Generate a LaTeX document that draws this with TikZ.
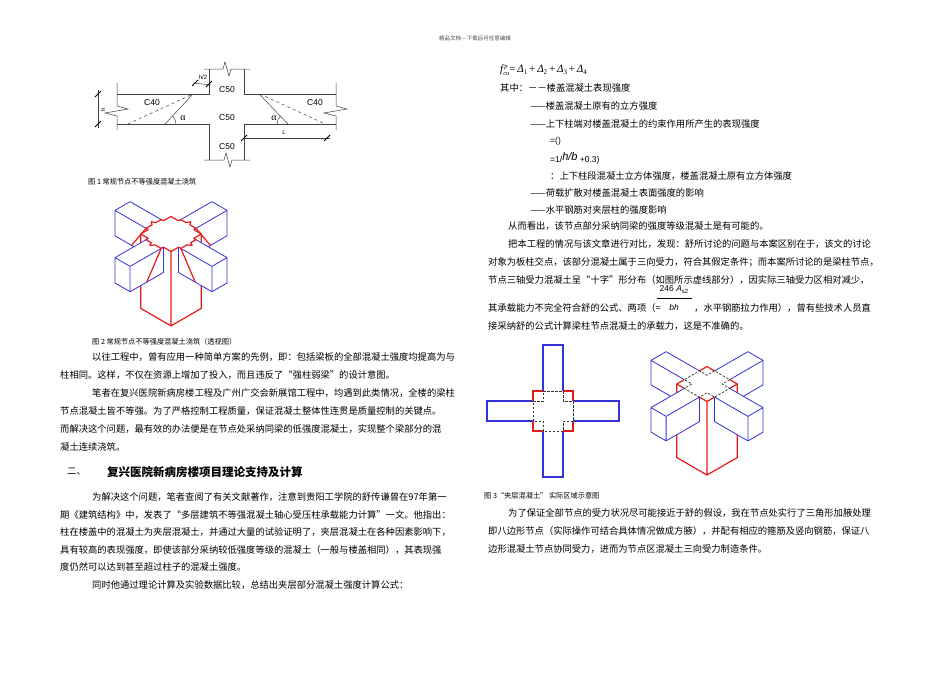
\documentclass[tikz,border=0pt]{standalone}
\usepackage{fontspec}
\newfontfamily\cjk{Noto Sans CJK SC}
\newfontfamily\arial{Liberation Sans}
\newfontfamily\tnr{Liberation Serif}
\definecolor{bluel}{RGB}{50,50,215}
\definecolor{redl}{RGB}{230,25,25}
\begin{document}
\begin{tikzpicture}[x=1pt,y=-1pt,
  txt/.style={anchor=west,inner sep=0pt,font=\cjk\fontsize{9.3}{11}\selectfont},
  capt/.style={anchor=west,inner sep=0pt,font=\cjk\fontsize{7.2}{9}\selectfont},
  lab/.style={inner sep=0pt,font=\arial\fontsize{8.5}{10}\selectfont},
  ln/.style={draw=black!75,line width=0.5pt},
  tick/.style={draw=black,line width=1pt},
  bm/.style={draw=bluel,line width=0.8pt,line join=round},
  cl/.style={draw=redl,line width=1.2pt,line join=round},
  dsh/.style={draw=black!80,line width=0.7pt,dash pattern=on 2.5pt off 1.5pt}]
\useasboundingbox (0,0) rectangle (950,672);
\fill[white] (0,0) rectangle (950,672);
\node[inner sep=0,font=\cjk\fontsize{5.5}{6}\selectfont,text=black!70] (hdr) at (475,38) {精品文档---下载后可任意编辑};

% ---------- Fig 1
\draw[ln] (209,69)--(209,94)--(117,94);
\draw[ln] (117,124)--(209,124)--(209,160);
\draw[ln] (244,69)--(244,94)--(336,94);
\draw[ln] (336,124)--(244,124)--(244,160);
\draw[ln] (204,69)--(223,69)--(225,62)--(229,76)--(231,69)--(250,69);
\draw[ln] (204,160)--(224,160)--(226,153)--(230,167)--(232,160)--(250,160);
\draw[ln] (117,83)--(117,106)--(128,109)--(105,113)--(117,116)--(117,130);
\draw[ln] (336,83)--(336,106)--(347,109)--(324,113)--(336,116)--(336,130);
\draw[ln,dashed] (128,124)--(193,94);
\draw[ln] (165,124)--(193,94);
\draw[ln] (176,124) arc[start angle=0,end angle=-47,radius=11];
\draw[ln,dashed] (260,94)--(325,124);
\draw[ln] (259,94)--(288,124);
\draw[ln] (277,124) arc[start angle=180,end angle=227,radius=11];
\draw[ln] (98,90)--(98,128);
\draw[tick] (95,97)--(101,91) (95,127)--(101,121);
\draw[ln] (193,83)--(211,85);
\draw[tick] (192,86)--(198,80) (206,87)--(212,81);
\draw[ln] (244,138)--(330,138);
\draw[tick] (241,141)--(247,135) (324,141)--(330,135);
\node[lab,rotate=90,font=\arial\fontsize{6}{7}\selectfont] (h1) at (103,110) {h};
\node[lab,font=\arial\fontsize{6}{7}\selectfont] (h2) at (203,77) {h/2};
\node[lab,font=\arial\fontsize{6}{7}\selectfont] (lL) at (284,132) {L};
\node[lab] (c40a) at (152,103) {C40};
\node[lab] (c40b) at (315,103) {C40};
\node[lab] (c50a) at (227,90) {C50};
\node[lab] (c50b) at (227,118) {C50};
\node[lab] (c50c) at (227,147) {C50};
\node[lab,font=\tnr\fontsize{10}{11}\selectfont] (al1) at (183,118) {α};
\node[lab,font=\tnr\fontsize{10}{11}\selectfont] (al2) at (274,118) {α};
\node[capt] (cap1) at (88,182) {图 1 常规节点不等强度混凝土浇筑};

% ---------- iso body macro
\def\A{1}\def\B{0.5}\def\L{3.2}\def\D{1.45}\def\H{4.25}
\newcommand\isobody[3]{%
 \fill[white] (-\A,-\B,0)--(-\L,-\B,0)--(-\L,\B,0)--(-\L,\B,-\D)--(-\A,\B,-\D)--(-\A,\B,0)--cycle;
 \draw[bm] (-\A,-\B,0)--(-\L,-\B,0)--(-\L,\B,0)--(-\A,\B,0) (-\L,\B,0)--(-\L,\B,-\D)--(-\A,\B,-\D)--(-\A,\B,0);
 \fill[white] (-\B,-\A,0)--(-\B,-\L,0)--(\B,-\L,0)--(\B,-\L,-\D)--(\B,-\A,-\D)--(\B,-\A,0)--cycle;
 \draw[bm] (-\B,-\A,0)--(-\B,-\L,0)--(\B,-\L,0)--(\B,-\A,0) (\B,-\L,0)--(\B,-\L,-\D)--(\B,-\A,-\D)--(\B,-\A,0);
 #1
 \fill[white] (\A,-\A,0)--(\A,-\A,-\H)--(\A,\A,-\H)--(-\A,\A,-\H)--(-\A,\A,0)--cycle;
 \fill[white] (-\A,-\A,0)--(\A,-\A,0)--(\A,\A,0)--(-\A,\A,0)--cycle;
 \draw[cl] (\A,-\A,0)--(\A,-\A,-\H)--(\A,\A,-\H)--(-\A,\A,-\H)--(-\A,\A,0) (\A,\A,0)--(\A,\A,-\H);
 \draw[cl] (-\B,-\A,0)--(-\A,-\A,0)--(-\A,-\B,0) (\B,-\A,0)--(\A,-\A,0)--(\A,-\B,0)
   (\A,\B,0)--(\A,\A,0)--(\B,\A,0) (-\A,\B,0)--(-\A,\A,0)--(-\B,\A,0);
 #2
 \fill[white] (\A,-\B,0)--(\L,-\B,0)--(\L,-\B,-\D)--(\L,\B,-\D)--(\A,\B,-\D)--(\A,\B,0)--cycle;
 \draw[bm] (\A,-\B,0)--(\L,-\B,0)--(\L,\B,0)--(\A,\B,0) (\L,-\B,0)--(\L,-\B,-\D)--(\L,\B,-\D)--(\A,\B,-\D)--(\A,\B,0) (\L,\B,0)--(\L,\B,-\D);
 \fill[white] (-\B,\A,0)--(-\B,\L,0)--(-\B,\L,-\D)--(\B,\L,-\D)--(\B,\A,-\D)--(\B,\A,0)--cycle;
 \draw[bm] (-\B,\A,0)--(-\B,\L,0)--(\B,\L,0)--(\B,\A,0) (-\B,\L,0)--(-\B,\L,-\D)--(\B,\L,-\D)--(\B,\A,-\D)--(\B,\A,0) (\B,\L,0)--(\B,\L,-\D);
 #3}

% ---------- Fig 2
\begin{scope}[shift={(171,234)},x={(-15.15pt,-8.75pt)},y={(15.15pt,-8.75pt)},z={(0pt,17.5pt)}]
\isobody{%
 \draw[cl] (-1.15,\B,0)--(-2.1,\B,-\D) (\B,-1.15,0)--(\B,-2.1,-\D);
 \draw[cl] (-\A,-\B,0)--(-1.15,-\B,0)--(-1.15,-0.15,0)--(-1.35,-0.05,0)--(-1.15,0.1,0)--(-1.15,\B,0)--(-\A,\B,0);
 \draw[cl] (-\B,-\A,0)--(-\B,-1.15,0)--(-0.15,-1.15,0)--(-0.05,-1.35,0)--(0.1,-1.15,0)--(\B,-1.15,0)--(\B,-\A,0);
}{}{%
 \draw[cl] (1.15,\B,0)--(2.1,\B,-\D) (\B,1.15,0)--(\B,2.1,-\D);
 \draw[cl] (\A,-\B,0)--(1.15,-\B,0)--(1.15,-0.15,0)--(1.35,-0.05,0)--(1.15,0.1,0)--(1.15,\B,0)--(\A,\B,0);
 \draw[cl] (-\B,\A,0)--(-\B,1.15,0)--(-0.15,1.15,0)--(-0.05,1.35,0)--(0.1,1.15,0)--(\B,1.15,0)--(\B,\A,0);
}
\end{scope}
\node[capt] (cap2) at (92,342) {图 2 常规节点不等强度混凝土浇筑（透视图）};

% ---------- Fig 3 plan
\begin{scope}[line width=1.1pt]
\draw[bluel] (543,391)--(543,345)--(563,345)--(563,391);
\draw[bluel] (543,431)--(543,477)--(563,477)--(563,431);
\draw[bluel] (533,401)--(487,401)--(487,421)--(533,421);
\draw[bluel] (573,401)--(619,401)--(619,421)--(573,421);
\draw[redl] (533,401)--(533,391)--(543,391) (563,391)--(573,391)--(573,401)
  (573,421)--(573,431)--(563,431) (543,431)--(533,431)--(533,421);
\draw[dsh] (543,391)--(563,391)--(563,401)--(573,401)--(573,421)--(563,421)--(563,431)--(543,431)--(543,421)--(533,421)--(533,401)--(543,401)--cycle;
\end{scope}

% ---------- Fig 3 iso
\begin{scope}[shift={(707,384)},x={(-15.15pt,-8.75pt)},y={(15.15pt,-8.75pt)},z={(0pt,17.5pt)}]
\def\D{1.4}\def\H{4.2}
\isobody{}{}{%
 \draw[dsh] (-\A,-\B,0)--(-\B,-\B,0)--(-\B,-\A,0)--(\B,-\A,0)--(\B,-\B,0)--(\A,-\B,0)--(\A,\B,0)--(\B,\B,0)--(\B,\A,0)--(-\B,\A,0)--(-\B,\B,0)--(-\A,\B,0)--cycle;}
\end{scope}
\node[capt] (cap3) at (484,496) {图 3“夹层混凝土” 实际区域示意图};

% ---------- left column text
\node[txt] (l1) at (92,357) {以往工程中，曾有应用一种简单方案的先例，即：包括梁板的全部混凝土强度均提高为与};
\node[txt] (l2) at (60,375) {柱相同。这样，不仅在资源上增加了投入，而且违反了“强柱弱梁”的设计意图。};
\node[txt] (l3) at (92,393) {笔者在复兴医院新病房楼工程及广州广交会新展馆工程中，均遇到此类情况，全楼的梁柱};
\node[txt] (l4) at (60,411) {节点混凝土皆不等强。为了严格控制工程质量，保证混凝土整体性连贯是质量控制的关键点。};
\node[txt] (l5) at (60,429) {而解决这个问题，最有效的办法便是在节点处采纳同梁的低强度混凝土，实现整个梁部分的混};
\node[txt] (l6) at (60,447) {凝土连续浇筑。};
\node[txt,font=\cjk\fontsize{9.3}{11}\selectfont] (hn) at (67,472) {二、};
\node[txt,font=\cjk\bfseries\fontsize{11.5}{13}\selectfont] (hd) at (107,472) {复兴医院新病房楼项目理论支持及计算};
\node[txt] (m1) at (92,497) {为解决这个问题，笔者查阅了有关文献著作，注意到贵阳工学院的舒传谦曾在97年第一};
\node[txt] (m2) at (60,515) {期《建筑结构》中，发表了“多层建筑不等强混凝土轴心受压柱承载能力计算”一文。他指出：};
\node[txt] (m3) at (60,532) {柱在楼盖中的混凝土为夹层混凝土，并通过大量的试验证明了，夹层混凝土在各种因素影响下，};
\node[txt] (m4) at (60,550) {具有较高的表现强度，即使该部分采纳较低强度等级的混凝土（一般与楼盖相同），其表现强};
\node[txt] (m5) at (60,567) {度仍然可以达到甚至超过柱子的混凝土强度。};
\node[txt] (m6) at (92,585) {同时他通过理论计算及实验数据比较，总结出夹层部分混凝土强度计算公式：};

% ---------- right column text
\node[txt,font=\tnr\itshape\fontsize{11}{12}\selectfont] (f1) at (500,70) {f\raisebox{4pt}{\rlap{\fontsize{6.5}{7}\selectfont\,p}}\raisebox{-2.5pt}{\fontsize{6.5}{7}\selectfont cu}\upshape=\itshape\,Δ\raisebox{-2pt}{\upshape\fontsize{7}{8}\selectfont 1}\,\upshape+\itshape\,Δ\raisebox{-2pt}{\upshape\fontsize{7}{8}\selectfont 2}\,\upshape+\itshape\,Δ\raisebox{-2pt}{\upshape\fontsize{7}{8}\selectfont 3}\,\upshape+\itshape\,Δ\raisebox{-2pt}{\upshape\fontsize{7}{8}\selectfont 4}};
\node[txt] (r1) at (500,88) {其中：－－楼盖混凝土表现强度};
\node[txt] (r2) at (530,106) {——楼盖混凝土原有的立方强度};
\node[txt] (r3) at (530,124) {——上下柱端对楼盖混凝土的约束作用所产生的表现强度};
\node[txt,font=\arial\fontsize{8.5}{10}\selectfont] (r4) at (550,141) {=()};
\node[txt,font=\arial\fontsize{8.5}{10}\selectfont] (r5) at (550,158) {=1/\raisebox{2pt}{\fontsize{11}{12}\selectfont\itshape h/b} +0.3)};
\node[txt] (r6) at (550,176) {：上下柱段混凝土立方体强度，楼盖混凝土原有立方体强度};
\node[txt] (r7) at (530,193) {——荷载扩散对楼盖混凝土表面强度的影响};
\node[txt] (r8) at (530,210) {——水平钢筋对夹层柱的强度影响};
\node[txt] (r9) at (508,226) {从而看出，该节点部分采纳同梁的强度等级混凝土是有可能的。};
\node[txt] (r10) at (508,244) {把本工程的情况与该文章进行对比，发现：舒所讨论的问题与本案区别在于，该文的讨论};
\node[txt] (r11) at (488,262) {对象为板柱交点，该部分混凝土属于三向受力，符合其假定条件；而本案所讨论的是梁柱节点，};
\node[txt] (r12) at (488,280) {节点三轴受力混凝土呈“十字”形分布（如图所示虚线部分），因实际三轴受力区相对减少，};
\node[txt] (r13) at (488,308) {其承载能力不完全符合舒的公式、两项（=};
\node[inner sep=0pt,font=\arial\fontsize{8.5}{10}\selectfont] (fn) at (674,290) {246 \textit{A}\raisebox{-2pt}{\fontsize{6}{7}\selectfont s2}};
\draw[line width=0.5pt] (657,298)--(692,298);
\node[inner sep=0pt,font=\arial\fontsize{8.5}{10}\selectfont] (fd) at (674,307) {\textit{bh}};
\node[txt] (r13b) at (694,308) {，水平钢筋拉力作用），曾有些技术人员直};
\node[txt] (r14) at (488,326) {接采纳舒的公式计算梁柱节点混凝土的承载力，这是不准确的。};
\node[txt] (r15) at (508,513) {为了保证全部节点的受力状况尽可能接近于舒的假设，我在节点处实行了三角形加腋处理};
\node[txt] (r16) at (488,531) {即八边形节点（实际操作可结合具体情况做成方腋），并配有相应的箍筋及竖向钢筋，保证八};
\node[txt] (r17) at (488,549) {边形混凝土节点协同受力，进而为节点区混凝土三向受力制造条件。};
\end{tikzpicture}
\end{document}
